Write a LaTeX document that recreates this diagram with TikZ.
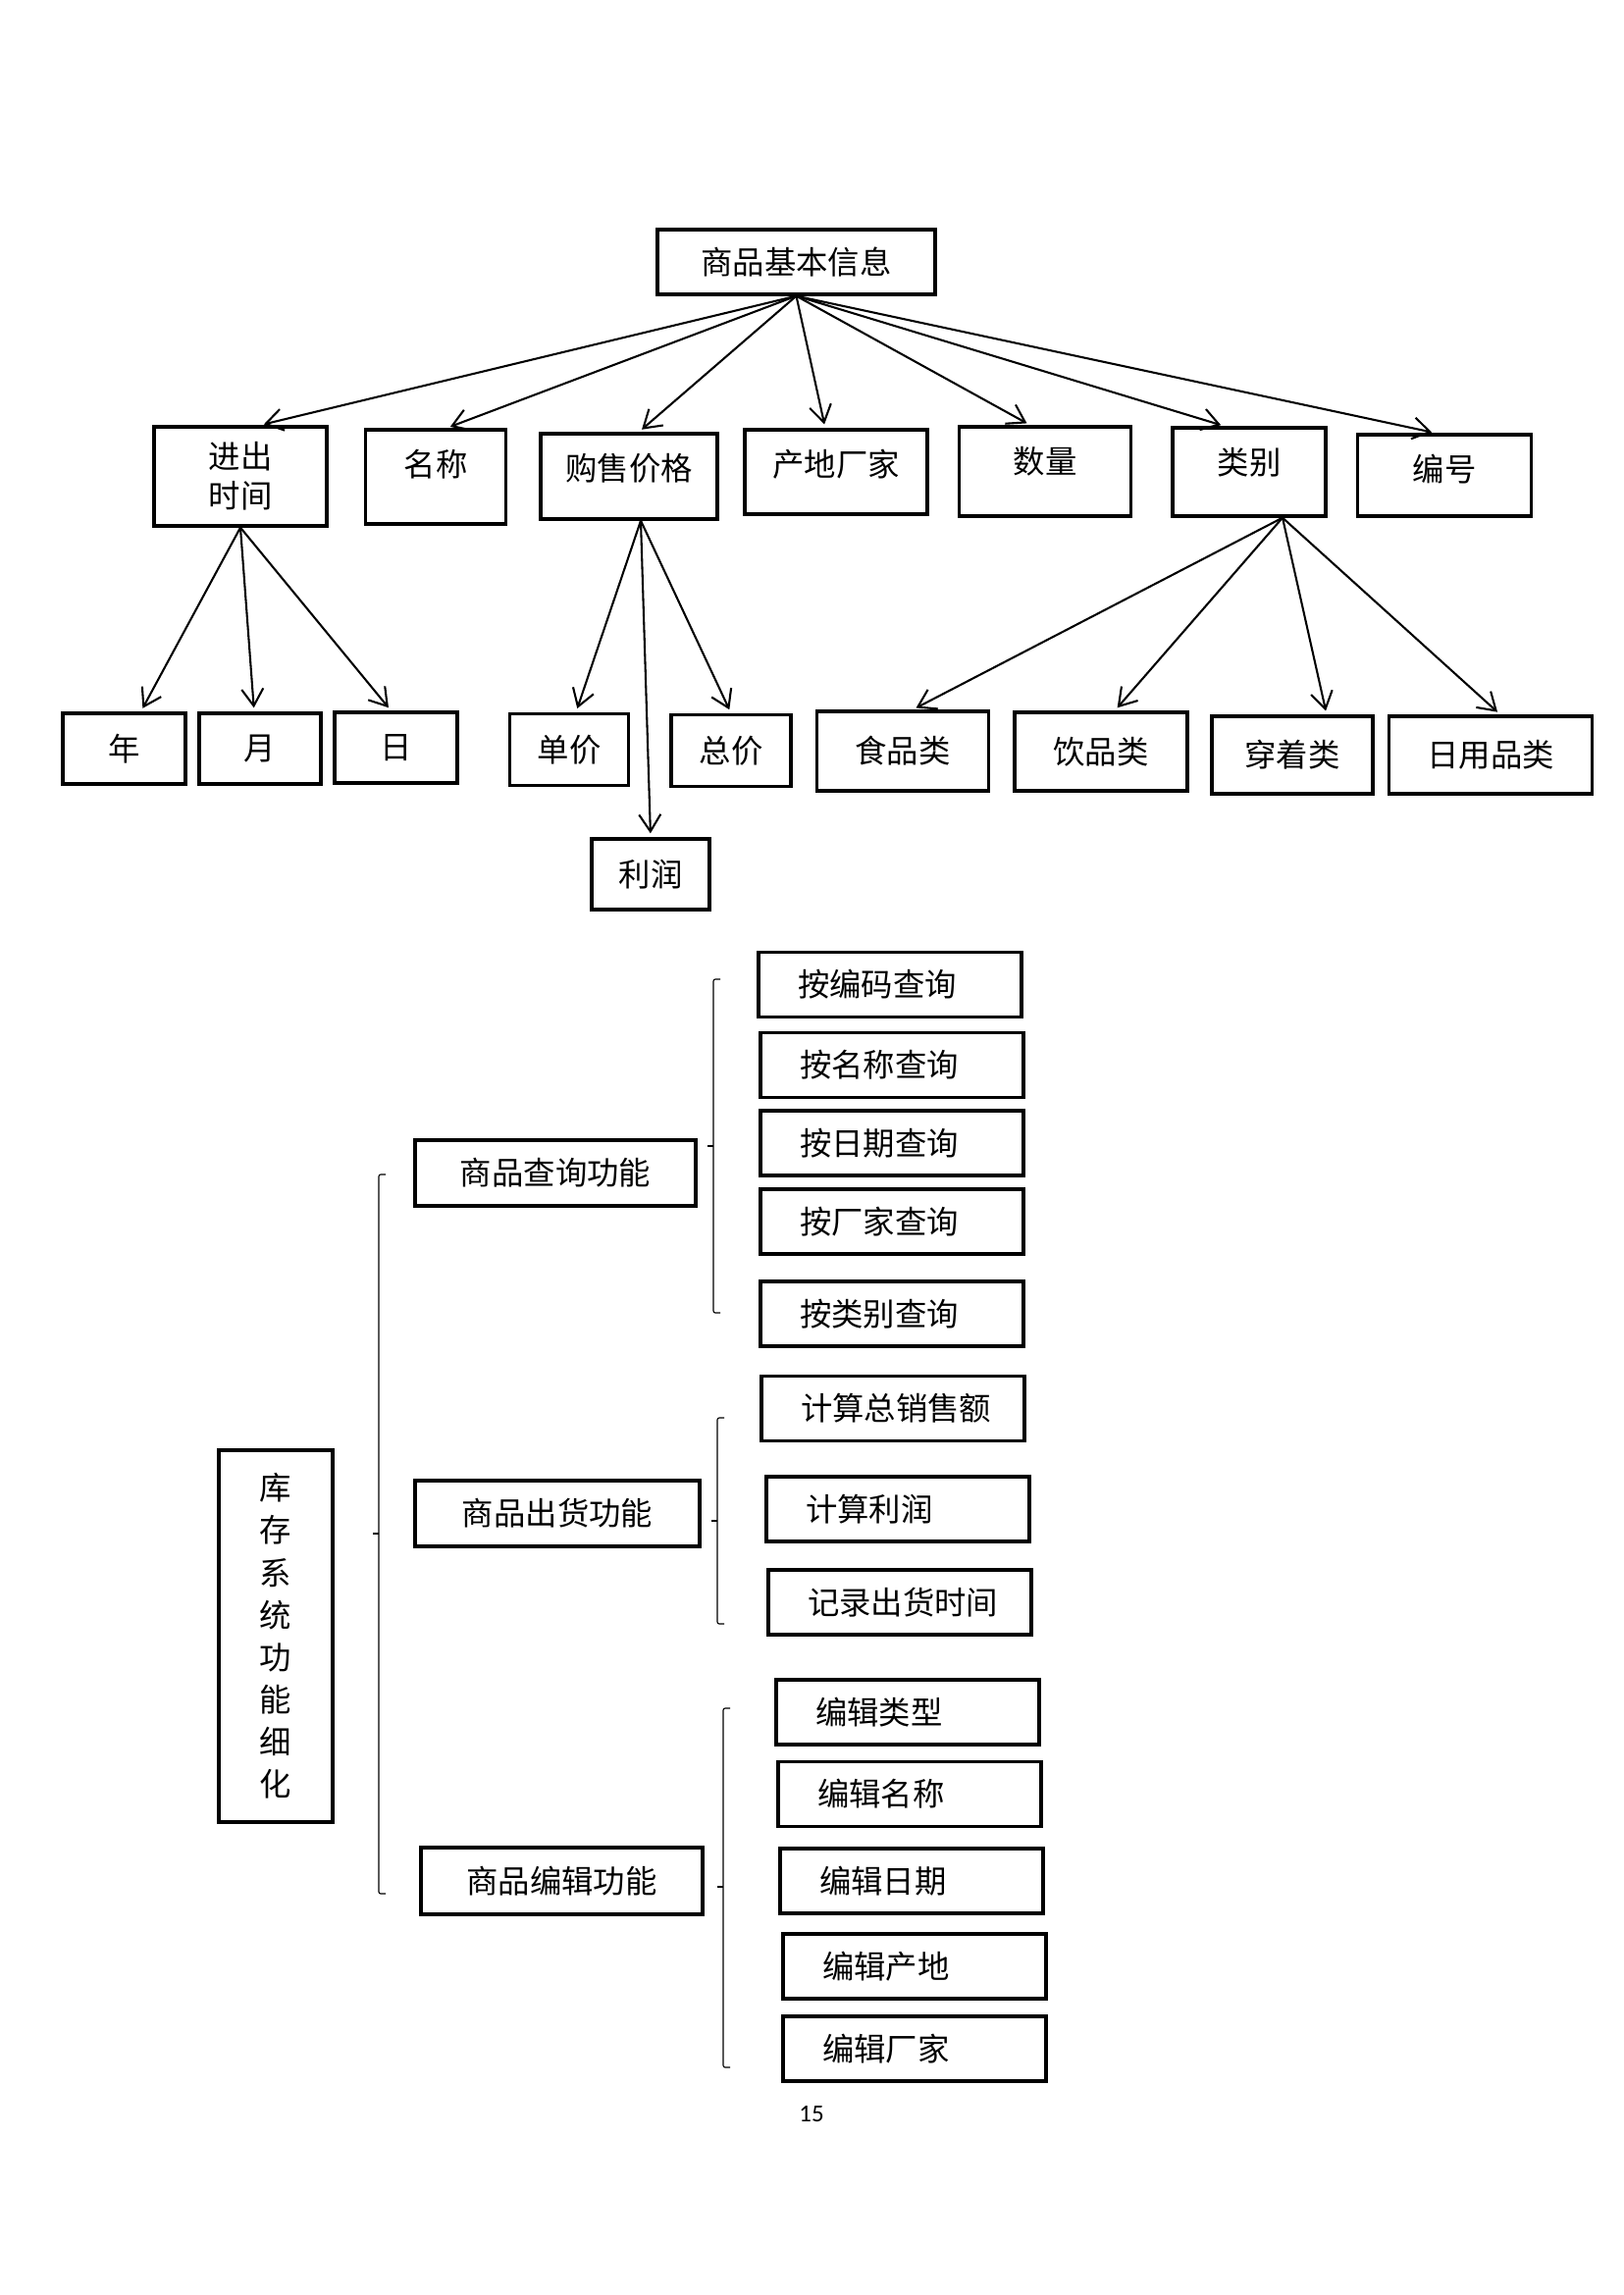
\documentclass[tikz,border=0pt]{standalone}
\usepackage{fontspec}
\setmainfont{Noto Sans CJK SC}
\newfontfamily\pagefont{Carlito}
\usetikzlibrary{arrows.meta}
\newlength\pxu
\setlength\pxu{0.12697mm}
\tikzset{
    box/.style={draw, line width=1.2pt, inner sep=0pt, font=\fontsize{11.7pt}{14.4pt}\selectfont},
    upbox/.style={box, text height=47\pxu, text depth=#1},
    leaf/.style={box, minimum width=268\pxu, minimum height=66\pxu, text width=188\pxu, align=left},
    arr/.style={->, line width=0.75pt, shorten >=4\pxu},
    brace/.style={line width=0.4pt, rounded corners=2\pxu},
}
\begin{document}
\begin{tikzpicture}[x=\pxu, y=-\pxu, >={Straight Barb[length=2.2mm,width=2.8mm]}]
        \useasboundingbox (0,0) rectangle (1654,2339);
        % basic information tree
        \node [box, minimum width=283\pxu, minimum height=66\pxu] (info) at (811.5,267) {商品基本信息};
        \node [box, minimum width=176\pxu, minimum height=101\pxu, align=center] (time) at (245,485.5) {进出\\时间};
        \node [upbox=49\pxu, minimum width=143\pxu] (name) at (444,486) {名称};
        \node [upbox=40\pxu, minimum width=180\pxu] (price) at (641,485.5) {购售价格};
        \node [upbox=39\pxu, minimum width=186\pxu] (origin) at (852,481) {产地厂家};
        \node [upbox=44\pxu, minimum width=175\pxu] (qty) at (1065,480.5) {数量};
        \node [upbox=43\pxu, minimum width=156\pxu] (cat) at (1273,481) {类别};
        \node [upbox=36\pxu, minimum width=177\pxu] (code) at (1472,484.5) {编号};
        \foreach \nm/\dx in {time/20, name/11, price/10, origin/-11, qty/-15, cat/-25, code/-9}
            \draw [arr] (info.south) -- ([xshift=\dx\pxu]\nm.north);
        % second row
        \node [box, minimum width=125\pxu, minimum height=72\pxu] (year) at (126.5,763) {年};
        \node [box, minimum width=124\pxu, minimum height=72\pxu] (month) at (265,763) {月};
        \node [box, minimum width=125\pxu, minimum height=72\pxu] (day) at (403.5,762) {日};
        \node [box, minimum width=121\pxu, minimum height=73\pxu] (unit) at (580,764) {单价};
        \node [box, minimum width=122\pxu, minimum height=73\pxu] (total) at (745,765) {总价};
        \node [box, minimum width=120\pxu, minimum height=72\pxu] (profit) at (663,891) {利润};
        \node [box, minimum width=175\pxu, minimum height=81\pxu] (food) at (920,765.5) {食品类};
        \node [box, minimum width=176\pxu, minimum height=80\pxu] (drink) at (1122,766) {饮品类};
        \node [box, minimum width=164\pxu, minimum height=79\pxu] (wear) at (1317,769.5) {穿着类};
        \node [box, minimum width=207\pxu, minimum height=79\pxu] (daily) at (1519,769.5) {日用品类};
        \foreach \nm/\dx in {year/17, month/-6, day/-5}
            \draw [arr] (time.south) -- ([xshift=\dx\pxu]\nm.north);
        \foreach \nm/\dx in {unit/7, profit/0, total/0}
            \draw [arr] ([xshift=12\pxu]price.south) -- ([xshift=\dx\pxu]\nm.north);
        \foreach \nm/\dx in {food/10, drink/14, wear/35, daily/10}
            \draw [arr] ([xshift=34\pxu]cat.south) -- ([xshift=\dx\pxu]\nm.north);
        % function breakdown
        \node [box, minimum width=116\pxu, minimum height=379\pxu, align=center,
               font=\fontsize{11.7pt}{15.6pt}\selectfont] (sys) at (281,1667.5) {库\\存\\系\\统\\功\\能\\细\\化};
        \node [box, minimum width=286\pxu, minimum height=67\pxu] (query) at (566,1195.5) {商品查询功能};
        \node [box, minimum width=290\pxu, minimum height=67\pxu] (sale) at (568,1542.5) {商品出货功能};
        \node [box, minimum width=287\pxu, minimum height=68\pxu] (edit) at (572.5,1917) {商品编辑功能};
        \foreach \nm/\px/\py/\txt in {q1/907/1003.5/按编码查询, q2/909/1085.5/按名称查询,
                q3/909/1165/按日期查询, q4/909/1245/按厂家查询, q5/909/1339/按类别查询,
                s1/910/1435.5/计算总销售额, s2/915/1538/计算利润, s3/917/1633/记录出货时间,
                e1/925/1745/编辑类型, e2/927/1828.5/编辑名称, e3/929/1917/编辑日期,
                e4/932/2004/编辑产地, e5/932/2088/编辑厂家}
            \node [leaf] (\nm) at (\px,\py) {\txt};
        \foreach \bx/\tp/\bt/\md in {386/1197/1930/1563, 727/998/1338/1168,
                731/1445/1655/1550, 737/1741/2107/1923} {
            \draw [brace] (\bx+7,\tp) -- (\bx,\tp) -- (\bx,\bt) -- (\bx+7,\bt);
            \draw [brace] (\bx,\md) -- (\bx-6,\md);
        }
        \node [font=\pagefont\fontsize{9pt}{11pt}\selectfont] (page) at (827,2155) {15};
    \end{tikzpicture}
\end{document}
